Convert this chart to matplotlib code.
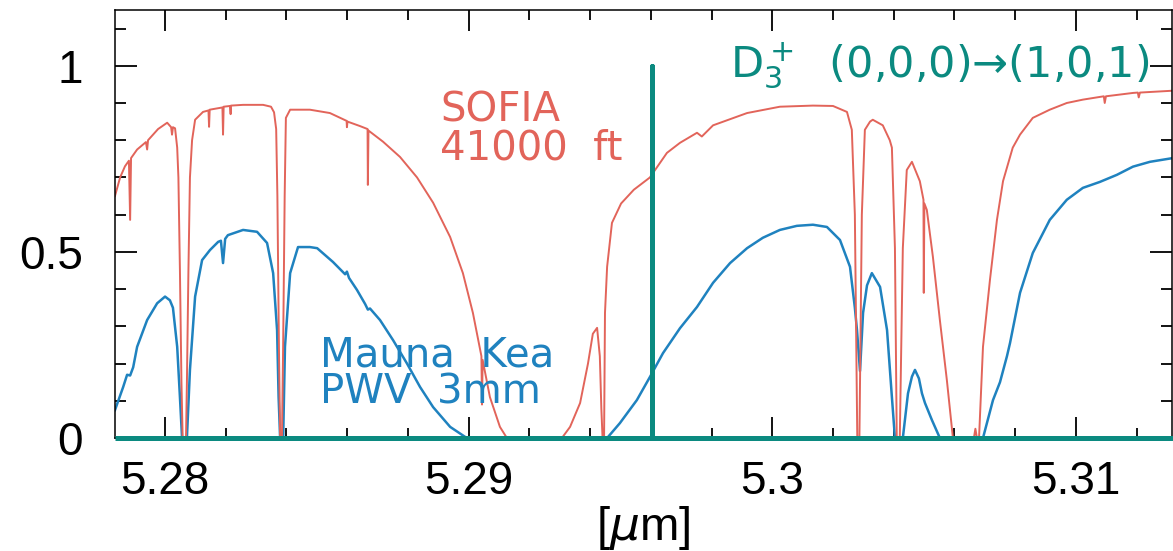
import numpy as np
import matplotlib
matplotlib.use("Agg")
import matplotlib.pyplot as plt
from matplotlib.ticker import MultipleLocator

# ── data ────────────────────────────────────────────────────────────────────
# SOFIA 41000 ft transmission
sofia_wl = [
    5.27835, 5.27852, 5.27868, 5.27881, 5.27885, 5.27888, 5.27908, 5.27937,
    5.27941, 5.27944, 5.27977, 5.28007, 5.28020, 5.28023, 5.28026, 5.28033,
    5.28040, 5.28044, 5.28049, 5.28054, 5.28058, 5.28069, 5.28072, 5.28077,
    5.28082, 5.28089, 5.28099, 5.28125, 5.28143, 5.28145, 5.28147, 5.28189,
    5.28191, 5.28193, 5.28214, 5.28216, 5.28217, 5.28257, 5.28323, 5.28349,
    5.28359, 5.28366, 5.28370, 5.28375, 5.28379, 5.28385, 5.28389, 5.28394,
    5.28398, 5.28412, 5.28477, 5.28543, 5.28598, 5.28599, 5.28601, 5.28642,
    5.28667, 5.28668, 5.28670, 5.28718, 5.28774, 5.28830, 5.28883, 5.28939,
    5.28981, 5.29014, 5.29042, 5.29044, 5.29046, 5.29070, 5.29103, 5.29126,
    5.29307, 5.29334, 5.29367, 5.29393, 5.29409, 5.29423, 5.29432, 5.29437,
    5.29441, 5.29446, 5.29449, 5.29456, 5.29472, 5.29502, 5.29544, 5.29597,
    5.29653, 5.29696, 5.29752, 5.29768, 5.29805, 5.29917, 5.30025, 5.30134,
    5.30200, 5.30246, 5.30262, 5.30272, 5.30280, 5.30287, 5.30295, 5.30305,
    5.30322, 5.30331, 5.30364, 5.30387, 5.30394, 5.30404, 5.30410, 5.30420,
    5.30430, 5.30443, 5.30460, 5.30486, 5.30498, 5.30499, 5.30501, 5.30509,
    5.30529, 5.30552, 5.30575, 5.30595, 5.30664, 5.30669, 5.30674, 5.30681,
    5.30694, 5.30717, 5.30740, 5.30760, 5.30792, 5.30816, 5.30858, 5.30914,
    5.30970, 5.31023, 5.31092, 5.31095, 5.31099, 5.31188, 5.31204, 5.31207,
    5.31211, 5.31319,
]
sofia_tr = [
    0.650, 0.700, 0.730, 0.745, 0.586, 0.752, 0.775, 0.795,
    0.775, 0.800, 0.830, 0.847, 0.835, 0.815, 0.835, 0.832,
    0.780, 0.700, 0.450, 0.150, 0.000, 0.000, 0.150, 0.450,
    0.700, 0.800, 0.855, 0.876, 0.880, 0.836, 0.882, 0.888,
    0.815, 0.890, 0.892, 0.870, 0.893, 0.895, 0.895, 0.890,
    0.875, 0.830, 0.650, 0.250, 0.000, 0.000, 0.250, 0.650,
    0.860, 0.882, 0.882, 0.873, 0.852, 0.835, 0.850, 0.838,
    0.830, 0.680, 0.826, 0.796, 0.755, 0.700, 0.632, 0.540,
    0.443, 0.336, 0.220, 0.090, 0.210, 0.110, 0.030, 0.000,
    0.000, 0.030, 0.094, 0.200, 0.280, 0.296, 0.220, 0.080,
    0.000, 0.000, 0.336, 0.460, 0.578, 0.630, 0.667, 0.700,
    0.766, 0.793, 0.820, 0.810, 0.840, 0.873, 0.890, 0.893,
    0.892, 0.876, 0.828, 0.600, 0.000, 0.000, 0.600, 0.828,
    0.850, 0.855, 0.840, 0.800, 0.780, 0.510, 0.000, 0.000,
    0.510, 0.720, 0.742, 0.690, 0.640, 0.390, 0.630, 0.613,
    0.487, 0.317, 0.156, 0.000, 0.000, 0.025, 0.000, 0.000,
    0.245, 0.425, 0.586, 0.690, 0.780, 0.815, 0.860, 0.882,
    0.900, 0.909, 0.918, 0.900, 0.918, 0.927, 0.928, 0.915,
    0.928, 0.933,
]

# Mauna Kea, PWV 3 mm transmission
mk_wl = [
    5.27835, 5.27862, 5.27875, 5.27885, 5.27895, 5.27908, 5.27941, 5.27974,
    5.28000, 5.28016, 5.28026, 5.28040, 5.28049, 5.28056, 5.28072, 5.28082,
    5.28099, 5.28122, 5.28148, 5.28175, 5.28184, 5.28191, 5.28198, 5.28207,
    5.28257, 5.28303, 5.28336, 5.28356, 5.28369, 5.28374, 5.28379, 5.28389,
    5.28395, 5.28412, 5.28438, 5.28477, 5.28501, 5.28553, 5.28593, 5.28599,
    5.28606, 5.28632, 5.28659, 5.28668, 5.28675, 5.28708, 5.28751, 5.28797,
    5.28840, 5.28883, 5.28939, 5.28994, 5.29456, 5.29498, 5.29554, 5.29597,
    5.29640, 5.29696, 5.29752, 5.29805, 5.29861, 5.29917, 5.29969, 5.30025,
    5.30081, 5.30134, 5.30180, 5.30223, 5.30256, 5.30272, 5.30279, 5.30289,
    5.30299, 5.30312, 5.30328, 5.30355, 5.30378, 5.30394, 5.30404, 5.30430,
    5.30447, 5.30460, 5.30470, 5.30483, 5.30493, 5.30503, 5.30526, 5.30552,
    5.30694, 5.30727, 5.30750, 5.30773, 5.30783, 5.30816, 5.30858, 5.30914,
    5.30970, 5.31023, 5.31079, 5.31135, 5.31188, 5.31244, 5.31319,
]
mk_tr = [
    0.075, 0.137, 0.170, 0.168, 0.190, 0.245, 0.317, 0.362,
    0.380, 0.370, 0.350, 0.245, 0.110, 0.000, 0.000, 0.183,
    0.380, 0.478, 0.505, 0.527, 0.530, 0.470, 0.535, 0.545,
    0.559, 0.554, 0.524, 0.443, 0.290, 0.110, 0.000, 0.000,
    0.245, 0.443, 0.513, 0.513, 0.510, 0.473, 0.440, 0.447,
    0.430, 0.398, 0.360, 0.345, 0.348, 0.317, 0.263, 0.200,
    0.137, 0.083, 0.030, 0.000, 0.000, 0.040, 0.102, 0.164,
    0.228, 0.295, 0.352, 0.417, 0.470, 0.510, 0.538, 0.559,
    0.570, 0.573, 0.567, 0.532, 0.460, 0.350, 0.290, 0.180,
    0.336, 0.410, 0.443, 0.406, 0.290, 0.110, 0.000, 0.000,
    0.120, 0.165, 0.183, 0.160, 0.120, 0.094, 0.048, 0.000,
    0.000, 0.102, 0.150, 0.220, 0.255, 0.390, 0.497, 0.586,
    0.640, 0.672, 0.688, 0.707, 0.729, 0.742, 0.752,
]

# D3+ (0,0,0)->(1,0,1) line position and relative strength
d3_wl = [5.27835, 5.29604, 5.29604, 5.29604, 5.31319]
d3_str = [0.0, 0.0, 1.0, 0.0, 0.0]

xtick_vals = [5.28, 5.29, 5.30, 5.31]
xtick_labels = ["5.28", "5.29", "5.3", "5.31"]
ytick_vals = [0, 0.5, 1]
ytick_labels = ["0", "0.5", "1"]

RED = "#e2645a"
BLUE = "#1f82bf"
TEAL = "#0b8a80"

fig = plt.figure(figsize=(11.73, 5.51), dpi=100)
ax = fig.add_axes([0.098, 0.205, 0.901, 0.777])

ax.plot(mk_wl, mk_tr, color=BLUE, linewidth=1.8)
ax.plot(sofia_wl, sofia_tr, color=RED, linewidth=1.4)
ax.plot(d3_wl, d3_str, color=TEAL, linewidth=3.6, zorder=5,
        clip_on=False, solid_capstyle="butt")

ax.set_xlim(5.27835, 5.31316)
ax.set_ylim(0, 1.15)

tick_font = {"family": "Liberation Sans", "size": 33}
ax.set_xticks(xtick_vals, labels=xtick_labels, fontdict=tick_font)
ax.set_yticks(ytick_vals, labels=ytick_labels, fontdict=tick_font)
ax.xaxis.set_minor_locator(MultipleLocator(0.002))
ax.yaxis.set_minor_locator(MultipleLocator(0.1))
ax.tick_params(which="both", direction="in", top=True, right=True,
               width=1.3, color="black")
ax.tick_params(axis="x", which="major", length=15, pad=16)
ax.tick_params(axis="x", which="minor", length=7.5)
ax.tick_params(axis="y", which="major", length=16, pad=23)
ax.tick_params(axis="y", which="minor", length=8)
for s in ax.spines.values():
    s.set_linewidth(1.1)

ax.set_xlabel(r"[$\mu$m]", fontsize=34, family="Liberation Sans", labelpad=0)

ann = {"family": "DejaVu Sans", "size": 29}
ax.text(5.28906, 0.849, "SOFIA", color=RED, va="baseline", **ann)
ax.text(5.28906, 0.747, "41000  ft", color=RED, va="baseline", **ann)
ax.text(5.28510, 0.191, "Mauna  Kea", color=BLUE, va="baseline", **ann)
ax.text(5.28510, 0.094, "PWV  3mm", color=BLUE, va="baseline", **ann)
ax.text(5.29861, 0.968, r"$\mathregular{D_3^+}$  (0,0,0)→(1,0,1)",
        color=TEAL, va="baseline", family="DejaVu Sans", size=31)

fig.savefig("out.png", dpi=100)
